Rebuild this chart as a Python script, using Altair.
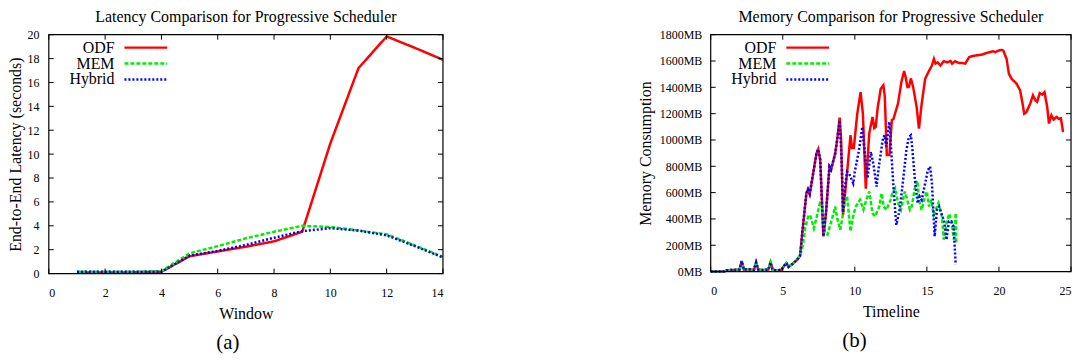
import altair as alt
import pandas as pd

# ---------------- data: latency (a) ----------------
windows = [1, 2, 3, 4, 5, 6, 7, 8, 9, 10, 11, 12, 13, 14]
odf_lat = [0.1, 0.1, 0.1, 0.15, 1.45, 1.85, 2.25, 2.7, 3.5, 10.9, 17.2, 19.85, 18.9, 17.9]
mem_lat = [0.15, 0.15, 0.15, 0.2, 1.7, 2.3, 2.95, 3.5, 4.0, 3.9, 3.6, 3.3, 2.35, 1.4]
hyb_lat = [0.15, 0.15, 0.15, 0.15, 1.5, 1.9, 2.4, 3.0, 3.55, 3.8, 3.6, 3.2, 2.3, 1.35]

# ---------------- data: memory (b) ----------------
early_t = [0, 0.5, 1.0, 1.1, 1.5, 2.0, 2.15, 2.3, 2.6, 3.0, 3.15, 3.3, 3.6, 4.0, 4.15,
           4.3, 4.6, 4.9, 5.1, 5.25, 5.4, 5.7, 6.0, 6.2]
early_mb = [0, 0, 2, 10, 12, 15, 80, 15, 18, 12, 70, 15, 12, 15, 70,
            12, 10, 12, 45, 65, 35, 60, 90, 120]

odf_t = [6.4, 6.64, 6.75, 6.87, 7.11, 7.34, 7.46, 7.6, 7.82, 8.0, 8.24, 8.35, 8.64, 8.8,
         8.95, 9.05, 9.18, 9.46, 9.7, 9.8, 9.93, 10.17, 10.4, 10.56, 10.76, 11.0, 11.23,
         11.35, 11.45, 11.58, 11.8, 11.98, 12.08, 12.22, 12.4, 12.57, 12.68, 13.0, 13.23,
         13.42, 13.52, 13.65, 13.76, 13.89, 14.05, 14.29, 14.45, 14.64, 14.88, 15.1, 15.35,
         15.49, 15.6, 15.75, 15.94, 16.17, 16.4, 16.64, 16.75, 16.95, 17.23, 17.46, 17.66,
         17.94, 18.29, 18.88, 19.1, 19.35, 19.58, 19.75, 20.0, 20.17, 20.3, 20.53, 20.69,
         20.88, 21.23, 21.47, 21.64, 21.75, 21.9, 22.17, 22.36, 22.53, 22.65, 22.83, 23.0,
         23.16, 23.35, 23.47, 23.64, 23.8, 24.0, 24.15, 24.3, 24.45]
odf_mb = [343, 595, 625, 590, 746, 898, 930, 848, 267, 444, 797, 775, 898, 1023,
          1170, 1000, 430, 749, 1036, 938, 940, 1200, 1364, 1200, 630, 1050, 1175,
          1090, 1100, 1240, 1390, 1415, 1330, 885, 885, 1150, 1160, 1278, 1440,
          1523, 1480, 1402, 1405, 1467, 1400, 1250, 1087, 1276, 1465, 1515, 1566,
          1616, 1580, 1590, 1566, 1599, 1590, 1600, 1580, 1598, 1585, 1585, 1580,
          1630, 1640, 1650, 1660, 1667, 1674, 1668, 1680, 1684, 1680, 1616, 1503,
          1465, 1427, 1377, 1276, 1200, 1210, 1276, 1339, 1301, 1290, 1356, 1345,
          1364, 1250, 1125, 1188, 1155, 1175, 1160, 1165, 1060]

mem_t = [6.4, 6.55, 6.76, 6.9, 7.16, 7.3, 7.58, 7.7, 7.93, 8.1, 8.4, 8.64, 8.8, 8.99,
         9.15, 9.3, 9.46, 9.7, 9.93, 10.1, 10.36, 10.6, 10.8, 11.0, 11.23, 11.4, 11.7,
         11.86, 12.0, 12.2, 12.48, 12.6, 12.8, 13.0, 13.2, 13.47, 13.6, 13.82, 13.95,
         14.22, 14.35, 14.45, 14.64, 14.8, 15.0, 15.15, 15.3, 15.47, 15.8, 16.05, 16.17,
         16.4, 16.55, 16.7, 16.88, 17.0, 17.04]
mem_mb = [200, 330, 418, 430, 330, 390, 520, 510, 293, 280, 393, 494, 393, 318,
          418, 520, 575, 305, 444, 500, 545, 470, 545, 608, 444, 420, 494,
          595, 494, 470, 545, 595, 633, 520, 470, 608, 560, 470, 494,
          671, 690, 545, 469, 545, 608, 494, 545, 431, 520, 418, 242,
          381, 440, 381, 242, 444, 217]

hyb_t = [6.4, 6.64, 6.75, 6.87, 7.11, 7.34, 7.46, 7.6, 7.82, 8.0, 8.24, 8.35, 8.64, 8.8,
         8.95, 9.1, 9.18, 9.3, 9.46, 9.6, 9.89, 10.0, 10.29, 10.52, 10.6, 10.88, 11.11,
         11.3, 11.51, 11.65, 11.93, 12.05, 12.18, 12.4, 12.52, 12.71, 12.88, 13.11, 13.35,
         13.58, 13.75, 13.89, 14.0, 14.17, 14.36, 14.5, 14.64, 14.88, 15.07, 15.23, 15.35,
         15.54, 15.7, 15.85, 16.0, 16.2, 16.36, 16.53, 16.7, 16.85, 17.0]
hyb_mb = [343, 595, 625, 590, 746, 898, 930, 848, 267, 444, 797, 775, 898, 1023,
          1150, 800, 450, 620, 759, 745, 671, 759, 923, 1099, 1000, 709, 910,
          810, 645, 784, 998, 1036, 950, 1137, 923, 595, 355, 469, 696,
          923, 1023, 1036, 923, 696, 520, 570, 545, 671, 771, 797, 671,
          267, 469, 494, 444, 381, 242, 381, 381, 343, 53]

series_names = ["ODF", "MEM", "Hybrid"]
series_colors = ["#ff0000", "#00ee00", "#0000ff"]
series_dash = [[1, 0], [4, 2], [2, 2]]

lat_xticks = [0, 2, 4, 6, 8, 10, 12, 14]
lat_yticks = [0, 2, 4, 6, 8, 10, 12, 14, 16, 18, 20]
mem_xticks = [0, 5, 10, 15, 20, 25]
mem_yticks = [0, 200, 400, 600, 800, 1000, 1200, 1400, 1600, 1800]

FONT = "Liberation Serif"


def make_panel(series_xy, xdom, ydom, xticks, yticks, W, H, xtitle, ytitle, title,
               ylabel_expr=None, ylabpad=10, ytitlepad=3):
    xs = alt.Scale(domain=xdom, nice=False, zero=False)
    ys = alt.Scale(domain=ydom, nice=False, zero=False)
    common = dict(ticks=False, domain=False, grid=False, labelFont=FONT, labelFontSize=12,
                  labelColor="black", titleFont=FONT, titleFontSize=16,
                  titleFontWeight="normal", titleColor="black")
    yaxis_kw = dict(values=yticks, title=ytitle, labelPadding=ylabpad,
                    titlePadding=ytitlepad, **common)
    if ylabel_expr:
        yaxis_kw["labelExpr"] = ylabel_expr
    xaxis = alt.Axis(values=xticks, title=xtitle, labelPadding=14, titlePadding=7, **common)
    yaxis = alt.Axis(**yaxis_kw)
    X = lambda f: alt.X(f, scale=xs, axis=xaxis)
    Y = lambda f: alt.Y(f, scale=ys, axis=yaxis)
    layers = []
    for i, (xv, yv) in enumerate(series_xy):
        df = pd.DataFrame({"x": xv, "y": yv})
        layers.append(
            alt.Chart(df).mark_line(color=series_colors[i], strokeWidth=2.5,
                                    strokeDash=series_dash[i])
            .encode(x=X("x:Q"), y=Y("y:Q"))
        )
    xt = pd.DataFrame({"x": xticks})
    yt = pd.DataFrame({"y": yticks})
    tick = dict(color="black", strokeWidth=1)
    layers.append(alt.Chart(xt).mark_rule(**tick).encode(
        x=X("x:Q"), y=alt.value(H), y2=alt.value(H - 5)))
    layers.append(alt.Chart(xt).mark_rule(**tick).encode(
        x=X("x:Q"), y=alt.value(0), y2=alt.value(5)))
    layers.append(alt.Chart(yt).mark_rule(**tick).encode(
        y=Y("y:Q"), x=alt.value(0), x2=alt.value(5)))
    layers.append(alt.Chart(yt).mark_rule(**tick).encode(
        y=Y("y:Q"), x=alt.value(W), x2=alt.value(W - 5)))
    # frame
    fd = pd.DataFrame({"k": [0]})
    layers.append(alt.Chart(fd).mark_rect(fill=None, stroke="black", strokeWidth=1.2).encode(
        x=alt.value(0), x2=alt.value(W), y=alt.value(0), y2=alt.value(H)))
    # legend
    for i, name in enumerate(series_names):
        ypos = 13 + 16 * i
        ld = pd.DataFrame({"name": [name]})
        layers.append(alt.Chart(ld).mark_text(align="right", baseline="middle", font=FONT,
                                              fontSize=16, color="black")
                      .encode(text="name:N", x=alt.value(66), y=alt.value(ypos)))
        layers.append(alt.Chart(ld).mark_rule(color=series_colors[i], strokeWidth=2.5,
                                              strokeDash=series_dash[i])
                      .encode(x=alt.value(76), x2=alt.value(119), y=alt.value(ypos)))
    return alt.layer(*layers).properties(
        width=W, height=H,
        title=alt.TitleParams(title, font=FONT, fontSize=16, fontWeight="normal",
                              anchor="middle", offset=4, color="black"))


left = make_panel([(windows, odf_lat), (windows, mem_lat), (windows, hyb_lat)],
                  [0, 14], [0, 20], lat_xticks, lat_yticks, 396, 240,
                  "Window", "End-to-End Latency (seconds)",
                  "Latency Comparison for Progressive Scheduler",
                  ylabpad=10, ytitlepad=3)

right = make_panel([(early_t + odf_t, early_mb + odf_mb),
                    (early_t + mem_t, early_mb + mem_mb),
                    (early_t + hyb_t, early_mb + hyb_mb)],
                   [0, 25], [0, 1800], mem_xticks, mem_yticks, 362, 238,
                   "Timeline", "Memory Consumption",
                   "Memory Comparison for Progressive Scheduler",
                   ylabel_expr="datum.value + 'MB'", ylabpad=9, ytitlepad=6)

cap = dict(orient="bottom", frame="bounds", anchor="middle", font=FONT, fontSize=21,
           fontWeight="normal", color="black", offset=11)
left_panel = alt.vconcat(left, title=alt.TitleParams("(a)", **cap))
right_panel = alt.vconcat(right, title=alt.TitleParams("(b)", **cap))

chart = alt.hconcat(left_panel, right_panel, spacing=190).properties(
    padding=0, background="white"
).configure_view(stroke=None)

chart.save("out.html", embed_options={"renderer": "svg", "actions": False})
